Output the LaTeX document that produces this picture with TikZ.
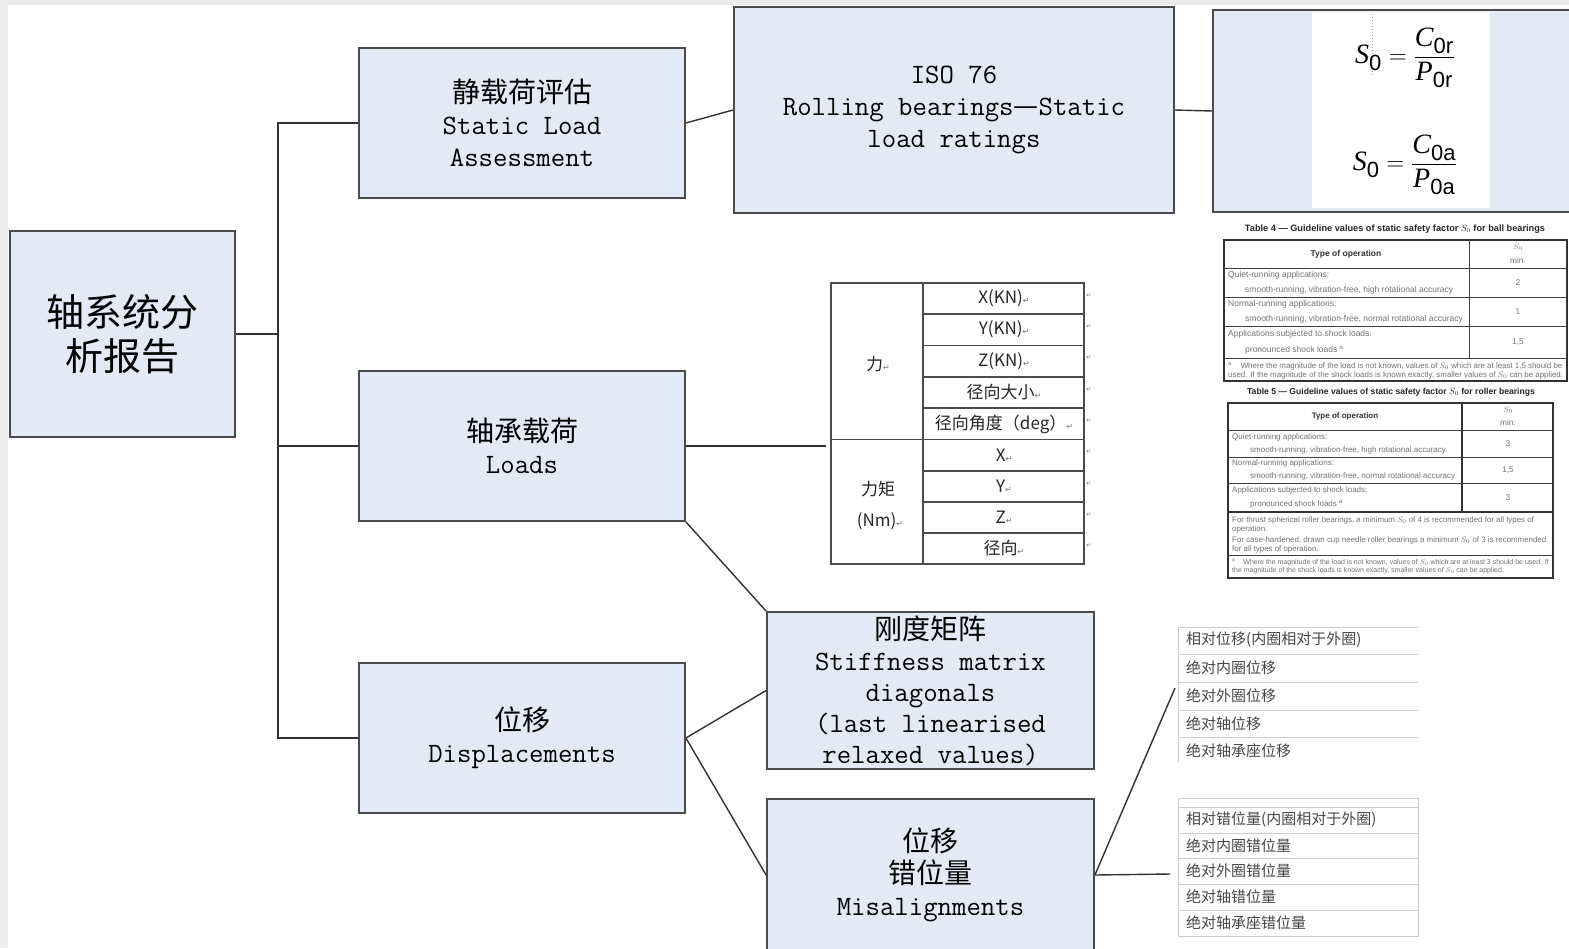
\documentclass[tikz,border=0pt]{standalone}
\usepackage{fontspec}
\usepackage{amsmath}
\setmainfont{Liberation Sans}
\newfontfamily\cjk{Noto Sans CJK SC}
\newfontfamily\djv{DejaVu Sans}
\newfontfamily\lsans{Liberation Sans}
\newfontfamily\lserif{Liberation Serif}
\definecolor{boxfill}{RGB}{227,233,245}
\definecolor{boxline}{RGB}{75,75,75}
\definecolor{connc}{RGB}{50,50,50}
\definecolor{bgray}{RGB}{236,236,236}
\definecolor{tgray}{RGB}{115,115,115}
\definecolor{lgray}{RGB}{205,205,205}
\newcommand\retmark{{\djv\fontsize{8}{8}\selectfont\color{tgray}↵}}
\newcommand\cellmark{{\djv\fontsize{6}{6}\selectfont\color{tgray}↵}}
\newcommand\fsub[1]{\text{\lsans\fontsize{22}{22}\selectfont #1}}
\newcommand\flet[1]{\text{\lserif\itshape\fontsize{28}{30}\selectfont #1}}
\begin{document}
\begin{tikzpicture}[x=1pt,y=-1pt,
  box/.style={draw=boxline,line width=1.8pt,fill=boxfill,inner sep=0pt,align=center,
    font=\fontsize{28}{32}\selectfont},
  conn/.style={draw=connc,line width=1.4pt},
  cell/.style={font=\cjk\fontsize{17}{20}\selectfont,text=black!85,inner sep=0pt},
  mk/.style={inner sep=0pt},
  lst/.style={anchor=west,font=\cjk\fontsize{15}{18}\selectfont,text=black!72,inner sep=0pt},
  tline/.style={draw=black!75,line width=0.9pt},
  tbox/.style={draw=black!80,line width=1.3pt},
  tcap/.style={inner sep=0pt,font=\lsans\bfseries\fontsize{9.2}{10}\selectfont,text=black!85},
  tb/.style={anchor=west,inner sep=0pt,text=tgray,font=\lsans\fontsize{8.5}{10}\selectfont},
  tc/.style={inner sep=0pt,text=tgray,font=\lsans\fontsize{8.3}{10}\selectfont},
  th/.style={inner sep=0pt,text=black!80,font=\lsans\bfseries\fontsize{8.5}{10}\selectfont}
]
% background
\fill[bgray] (0,0) rectangle (1569,948);
\fill[white] (8,5) rectangle (1569,948);
\useasboundingbox (0,0) rectangle (1569,948);

% main boxes
\node[box,minimum width=225,minimum height=206,font=\cjk\fontsize{38}{44}\selectfont] (root) at (122.5,334) {轴系统分\\析报告};
\node[box,minimum width=326,minimum height=150] (static) at (522,123)
  {{\cjk 静载荷评估}\\{\ttfamily Static Load}\\{\ttfamily Assessment}};
\node[box,minimum width=326,minimum height=150] (loads) at (522,446)
  {{\cjk 轴承载荷}\\{\ttfamily Loads}};
\node[box,minimum width=326,minimum height=150] (disp) at (522,738)
  {{\cjk 位移}\\{\ttfamily Displacements}};
\node[box,minimum width=440,minimum height=206] (iso) at (954,110)
  {{\ttfamily ISO 76}\\{\ttfamily Rolling bearings{\cjk —}Static}\\{\ttfamily load ratings}};
\node[box,minimum width=327,minimum height=157,font=\fontsize{28}{31}\selectfont] (stiff) at (930.5,690.5)
  {{\cjk 刚度矩阵}\\{\ttfamily Stiffness matrix}\\{\ttfamily diagonals}\\{\ttfamily (last linearised}\\{\ttfamily relaxed values)}};
\node[box,minimum width=327,minimum height=152] (mis) at (930.5,875)
  {{\cjk 位移}\\{\cjk 错位量}\\{\ttfamily Misalignments}};
\node[box,minimum width=370,minimum height=202] (fbox) at (1398,111) {};

% formula image
\fill[white] (1312,12) rectangle (1490,208);
\draw[black!35,line width=1pt,dotted] (1372,14) -- (1372,75);
\node[inner sep=0pt] (f1) at (1405,58) {\fontsize{28}{30}\selectfont $\flet{S}_{\fsub{0}} = \dfrac{\flet{C}_{\fsub{0r}}}{\flet{P}_{\fsub{0r}}}$};
\node[inner sep=0pt] (f2) at (1405,165) {\fontsize{28}{30}\selectfont $\flet{S}_{\fsub{0}} = \dfrac{\flet{C}_{\fsub{0a}}}{\flet{P}_{\fsub{0a}}}$};

% connectors
\coordinate (trunk) at (278,334);
\draw[conn] (root.east) -- (trunk);
\draw[conn] (static.west) -| (trunk) |- (disp.west);
\draw[conn] (trunk) |- (loads.west);
\draw[conn] (static.east) -- (iso.west);
\draw[conn] (iso.east) -- (fbox.west);
\coordinate (ltin) at (826,446);
\draw[conn] (loads.east) -- (ltin);
\draw[conn] (loads.south east) -- (stiff.north west);
\draw[conn] (disp.east) -- (stiff.west);
\draw[conn] (disp.east) -- (mis.west);
\coordinate (l1in) at (1175,688);
\coordinate (l2in) at (1170,874);
\draw[conn] (mis.east) -- (l1in);
\draw[conn] (mis.east) -- (l2in);

% loads table
\node[draw=black!70,line width=1.5pt,minimum width=253,minimum height=281,inner sep=0pt] (ltab) at (957.5,423.5) {};
\draw[black!70,line width=1.3pt] (923,283) -- (923,564);
\draw[black!70,line width=1.3pt] (831,439.5) -- (1084,439.5);
\foreach \yy in {314,345.5,377,408,471,502,533}
  \draw[black!70,line width=1.1pt] (923,\yy) -- (1084,\yy);
\node[cell] (c1) at (1004,298.5) {X(KN)\retmark};
\node[cell] (c2) at (1004,329.5) {Y(KN)\retmark};
\node[cell] (c3) at (1004,361) {Z(KN)\retmark};
\node[cell] (c4) at (1004,392.5) {径向大小\retmark};
\node[cell] (c5) at (1004,424) {径向角度（deg）\retmark};
\node[cell] (c6) at (1004,455) {X\retmark};
\node[cell] (c7) at (1004,486.5) {Y\retmark};
\node[cell] (c8) at (1004,517.5) {Z\retmark};
\node[cell] (c9) at (1004,548.5) {径向\retmark};
\node[cell] (cf) at (878,364) {力\retmark};
\node[cell] (cm1) at (878,489) {力矩};
\node[cell] (cm2) at (880,521) {(Nm)\retmark};
\foreach \yy [count=\i] in {298.5,329.5,361,392.5,424,455,486.5,517.5,548.5}
  \node[mk] (m\i) at (1089,\yy-3) {\cellmark};

% table 4
\node[tcap] (t4cap) at (1395,229) {Table 4 — Guideline values of static safety factor $S_0$ for ball bearings};
\draw[tbox] (1224,240) rectangle (1567,381);
\draw[tline] (1469,240) -- (1469,358);
\foreach \yy in {268,297,326,358}
  \draw[tline] (1224,\yy) -- (1567,\yy);
\node[th] (t4h) at (1346,254) {Type of operation};
\node[tc] (t4s) at (1518,247) {$S_0$};
\node[tc] (t4m) at (1518,260) {min.};
\node[tb] (t4r1a) at (1228,275) {Quiet-running applications:};
\node[tb] (t4r1b) at (1245,290) {smooth-running, vibration-free, high rotational accuracy};
\node[tc] (t4v1) at (1518,283) {2};
\node[tb] (t4r2a) at (1228,304) {Normal-running applications:};
\node[tb] (t4r2b) at (1245,319) {smooth-running, vibration-free, normal rotational accuracy};
\node[tc] (t4v2) at (1518,312) {1};
\node[tb] (t4r3a) at (1228,334) {Applications subjected to shock loads:};
\node[tb] (t4r3b) at (1245,350) {pronounced shock loads \textsuperscript{a}};
\node[tc] (t4v3) at (1518,342) {1,5};
\node[tb,font=\lsans\fontsize{7.9}{9}\selectfont] (t4f1) at (1228,366) {\textsuperscript{a}\hspace{9pt}Where the magnitude of the load is not known, values of $S_0$ which are at least 1,5 should be};
\node[tb,font=\lsans\fontsize{7.9}{9}\selectfont] (t4f2) at (1228,375.5) {used. If the magnitude of the shock loads is known exactly, smaller values of $S_0$ can be applied.};

% table 5
\node[tcap,font=\lsans\bfseries\fontsize{8.6}{10}\selectfont] (t5cap) at (1391,392) {Table 5 — Guideline values of static safety factor $S_0$ for roller bearings};
\draw[tbox] (1228,403) rectangle (1553,578);
\draw[tbox] (1462,403) -- (1462,512);
\foreach \yy in {430,457,483}
  \draw[tline] (1228,\yy) -- (1553,\yy);
\draw[tbox] (1228,512) -- (1553,512);
\draw[tline] (1228,555) -- (1553,555);
\node[th,font=\lsans\bfseries\fontsize{8}{10}\selectfont] (t5h) at (1345,416) {Type of operation};
\node[tc] (t5s) at (1508,410) {$S_0$};
\node[tc] (t5m) at (1508,422.5) {min.};
\node[tb,font=\lsans\fontsize{8}{10}\selectfont] (t5r1a) at (1232,437) {Quiet-running applications:};
\node[tb,font=\lsans\fontsize{8}{10}\selectfont] (t5r1b) at (1250,450) {smooth-running, vibration-free, high rotational accuracy};
\node[tc] (t5v1) at (1508,444) {3};
\node[tb,font=\lsans\fontsize{8}{10}\selectfont] (t5r2a) at (1232,463) {Normal-running applications:};
\node[tb,font=\lsans\fontsize{8}{10}\selectfont] (t5r2b) at (1250,476) {smooth-running, vibration-free, normal rotational accuracy};
\node[tc] (t5v2) at (1508,470) {1,5};
\node[tb,font=\lsans\fontsize{8}{10}\selectfont] (t5r3a) at (1232,490) {Applications subjected to shock loads:};
\node[tb,font=\lsans\fontsize{8}{10}\selectfont] (t5r3b) at (1250,504) {pronounced shock loads \textsuperscript{a}};
\node[tc] (t5v3) at (1508,498) {3};
\node[tb,font=\lsans\fontsize{7.9}{9}\selectfont] (t5n1) at (1232,520) {For thrust spherical roller bearings, a minimum $S_0$ of 4 is recommended for all types of};
\node[tb,font=\lsans\fontsize{7.9}{9}\selectfont] (t5n2) at (1232,529) {operation.};
\node[tb,font=\lsans\fontsize{7.9}{9}\selectfont] (t5n3) at (1232,540) {For case-hardened, drawn cup needle roller bearings a minimum $S_0$ of 3 is recommended};
\node[tb,font=\lsans\fontsize{7.9}{9}\selectfont] (t5n4) at (1232,549) {for all types of operation.};
\node[tb,font=\lsans\fontsize{7}{8}\selectfont] (t5f1) at (1232,562) {\textsuperscript{a}\hspace{8pt}Where the magnitude of the load is not known, values of $S_0$ which are at least 3 should be used. If};
\node[tb,font=\lsans\fontsize{7}{8}\selectfont] (t5f2) at (1232,571) {the magnitude of the shock loads is known exactly, smaller values of $S_0$ can be applied.};

% list 1
\draw[lgray,line width=1pt] (1178,627) -- (1178,762);
\foreach \yy in {627,654,682,710,737}
  \draw[lgray,line width=1pt] (1178,\yy) -- (1418,\yy);
\node[lst] (a1) at (1186,640) {相对位移(内圈相对于外圈)};
\node[lst] (a2) at (1186,668) {绝对内圈位移};
\node[lst] (a3) at (1186,696) {绝对外圈位移};
\node[lst] (a4) at (1186,724) {绝对轴位移};
\node[lst] (a5) at (1186,751) {绝对轴承座位移};

% list 2
\draw[lgray,line width=1pt] (1178,798) rectangle (1418,936);
\foreach \yy in {807,833,858,884,910}
  \draw[lgray,line width=1pt] (1178,\yy) -- (1418,\yy);
\node[lst] (b1) at (1186,820) {相对错位量(内圈相对于外圈)};
\node[lst] (b2) at (1186,846) {绝对内圈错位量};
\node[lst] (b3) at (1186,871) {绝对外圈错位量};
\node[lst] (b4) at (1186,897) {绝对轴错位量};
\node[lst] (b5) at (1186,923) {绝对轴承座错位量};
\end{tikzpicture}
\end{document}
